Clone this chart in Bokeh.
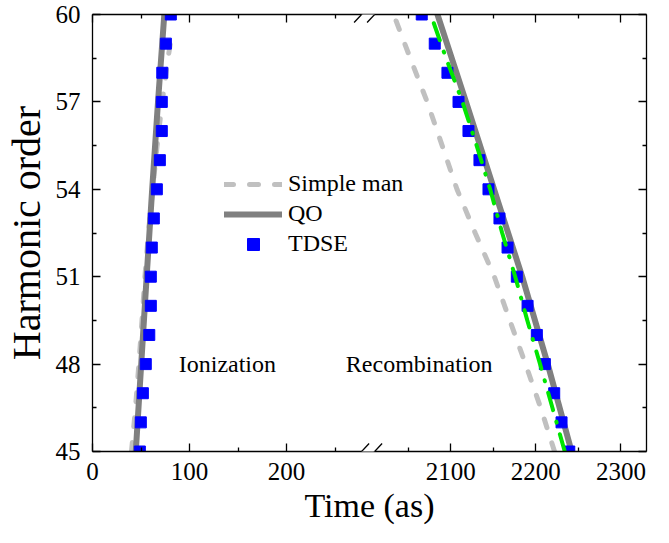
import math
from bokeh.plotting import figure
from bokeh.models import (Range1d, LinearAxis, FixedTicker, Legend, LegendItem,
                          Label, Arrow, PolyAnnotation)
from bokeh.embed import file_html
from bokeh.resources import INLINE

# ---------------- data ----------------
tdse_h = list(range(45, 61))
tdse_ion = [48.8, 49.8, 51.9, 54.9, 58.5, 60.1, 60.1, 61.1, 63.2, 66.3, 69.4, 71.4, 71.4, 71.9, 75.6, 80.7]
tdse_rec = [2239.3, 2230.2, 2221.6, 2210.6, 2201.2, 2190.3, 2177.7, 2166.8, 2157.3, 2144.4,
            2133.8, 2120.9, 2109.2, 2096.2, 2081.3, 2066.0]

qo_h = [45, 48, 51, 54, 57, 60]
qo_ion = [44.6, 50.2, 55.8, 61.5, 67.5, 74.0]
qo_rec = [2242.0, 2214.0, 2184.0, 2151.0, 2118.0, 2084.5]

sm_ion_h = [45, 46.5, 48, 49.5, 51, 52.5, 54, 55.5, 57, 58.5, 59.5]
sm_ion = [40.2, 44.3, 47.8, 51.0, 54.0, 57.6, 62.0, 66.6, 71.8, 77.8, 82.6]
sm_rec_h = [45, 46.5, 48, 49.5, 51, 52.5, 54, 55.5, 57, 58.5, 60]
sm_rec = [2222.0, 2205.7, 2187.9, 2169.4, 2151.3, 2128.8, 2107.4, 2090.0, 2072.4, 2052.5, 2033.0]

green_h = [45, 46.5, 48, 49.5, 51, 52.5, 54, 55.5, 57, 58.5, 60]
green_rec = [2234.0, 2219.5, 2205.0, 2190.0, 2175.8, 2160.5, 2146.4, 2130.5, 2113.8, 2094.6, 2076.6]

x_major = [0, 100, 200, 2100, 2200, 2300]
x_minor = [50, 150, 250, 2050, 2150, 2250]
x_labels = ["0", "100", "200", "2100", "2200", "2300"]
y_major = [45, 48, 51, 54, 57, 60]
y_minor = [46.5, 49.5, 52.5, 55.5, 58.5]

# ---------------- broken axis mapping ----------------
BREAK_L = 284.0
BREAK_R = 2003.0
SCALE_L = 0.97
SCALE_R = 0.851
X_MAX = 2330.0
U_BREAK = BREAK_L * SCALE_L


def to_u(t):
    if t <= BREAK_L:
        return t * SCALE_L
    return U_BREAK + (t - BREAK_R) * SCALE_R


NAN = float("nan")


def joined(a_t, a_h, b_t, b_h):
    xs = [to_u(t) for t in a_t] + [NAN] + [to_u(t) for t in b_t]
    ys = list(a_h) + [NAN] + list(b_h)
    return xs, ys


FRAME_W = 554
FRAME_H = 437
TOP_PAD = 14
PX_PER_H = FRAME_H / 15.0
FONT = "Liberation Serif"

p = figure(frame_width=FRAME_W, frame_height=FRAME_H,
           min_border_left=87, min_border_right=12, min_border_top=TOP_PAD, min_border_bottom=60,
           x_range=Range1d(0, to_u(X_MAX)), y_range=Range1d(45, 60),
           output_backend="svg", toolbar_location=None)
p.xgrid.visible = False
p.ygrid.visible = False
p.outline_line_color = None
p.background_fill_color = "white"
p.border_fill_color = "white"

xt = FixedTicker(ticks=[to_u(t) for t in x_major], minor_ticks=[to_u(t) for t in x_minor])
yt = FixedTicker(ticks=y_major, minor_ticks=y_minor)
overrides = {to_u(t): lab for t, lab in zip(x_major, x_labels)}


def style_axis(ax, show_labels):
    ax.axis_line_width = 1.3
    ax.axis_line_color = "black"
    ax.major_tick_line_width = 1.3
    ax.minor_tick_line_width = 1.3
    ax.major_tick_in = 8
    ax.major_tick_out = 0
    ax.minor_tick_in = 4
    ax.minor_tick_out = 0
    ax.major_label_text_font = FONT
    ax.axis_label_text_font = FONT
    ax.axis_label_text_font_style = "normal"
    ax.axis_label_text_color = "black"
    if show_labels:
        ax.major_label_text_color = "black"
        ax.major_label_text_font_size = "25px"
        ax.major_label_standoff = 11
    else:
        ax.major_label_text_font_size = "1px"
        ax.major_label_text_alpha = 0
        ax.major_label_standoff = 0


xa = p.xaxis[0]
xa.ticker = xt
xa.major_label_overrides = overrides
style_axis(xa, True)
xa.axis_label = "Time (as)"
xa.axis_label_text_font_size = "34px"
xa.axis_label_standoff = 4

ya = p.yaxis[0]
ya.ticker = yt
style_axis(ya, True)
ya.major_label_standoff = 12
ya.axis_label = "Harmonic order"
ya.axis_label_text_font_size = "40px"
ya.axis_label_standoff = 4

top = LinearAxis(ticker=xt)
style_axis(top, False)
p.add_layout(top, "above")
right = LinearAxis(ticker=yt)
style_axis(right, False)
p.add_layout(right, "right")

# ---------------- series ----------------
sx, sy = joined(sm_ion, sm_ion_h, sm_rec, sm_rec_h)
r_sm = p.line(sx, sy, line_color="#C0C0C0", line_width=5, line_dash="9 16", line_cap="round")

qx, qy = joined(qo_ion, qo_h, qo_rec, qo_h)
r_qo = p.line(qx, qy, line_color="#808080", line_width=6, line_cap="round")

tx = [to_u(t) for t in tdse_ion] + [to_u(t) for t in tdse_rec]
ty = tdse_h + tdse_h
r_td = p.scatter(tx, ty, marker="square", size=11, fill_color="#0000FF", line_color="#0000FF")

p.line([to_u(t) for t in green_rec], green_h, line_color="#00E600", line_width=4,
       line_dash="18 12 1 12", line_cap="round")

LEG_H = 90
LEG_TOP = 154.7   # distance of the legend's top from the frame's top, px
legend = Legend(items=[LegendItem(label="Simple man", renderers=[r_sm]),
                       LegendItem(label="QO", renderers=[r_qo]),
                       LegendItem(label="TDSE", renderers=[r_td])],
                location=(132, FRAME_H - LEG_TOP - LEG_H), orientation="vertical",
                border_line_color=None, background_fill_alpha=0,
                padding=0, margin=0, spacing=0,
                glyph_width=58, glyph_height=30, label_height=30, label_standoff=6,
                label_text_font=FONT, label_text_font_size="24px", label_text_color="black")
p.add_layout(legend)

p.add_layout(Label(x=to_u(139), y=48, text="Ionization", text_font=FONT,
                   text_font_size="24px", text_align="center", text_baseline="middle",
                   text_color="black"))
p.add_layout(Label(x=to_u(2063), y=48, text="Recombination", text_font=FONT,
                   text_font_size="24px", text_align="center", text_baseline="middle",
                   text_color="black"))

# ---------------- axis break marks ----------------
half_dx = 7.5
half_dy = 8.0 / PX_PER_H
for yb in (45, 60):
    c1 = U_BREAK - 6.5
    c2 = U_BREAK + 6.5
    p.add_layout(PolyAnnotation(xs=[c1 - half_dx, c2 - half_dx, c2 + half_dx, c1 + half_dx],
                                ys=[yb - half_dy, yb - half_dy, yb + half_dy, yb + half_dy],
                                fill_color="white", fill_alpha=1, line_color=None))
    for c in (c1, c2):
        p.add_layout(Arrow(end=None, x_start=c - half_dx, y_start=yb - half_dy,
                           x_end=c + half_dx, y_end=yb + half_dy,
                           line_width=1.3, line_color="black"))

open("out.html", "w").write(file_html(p, INLINE))
